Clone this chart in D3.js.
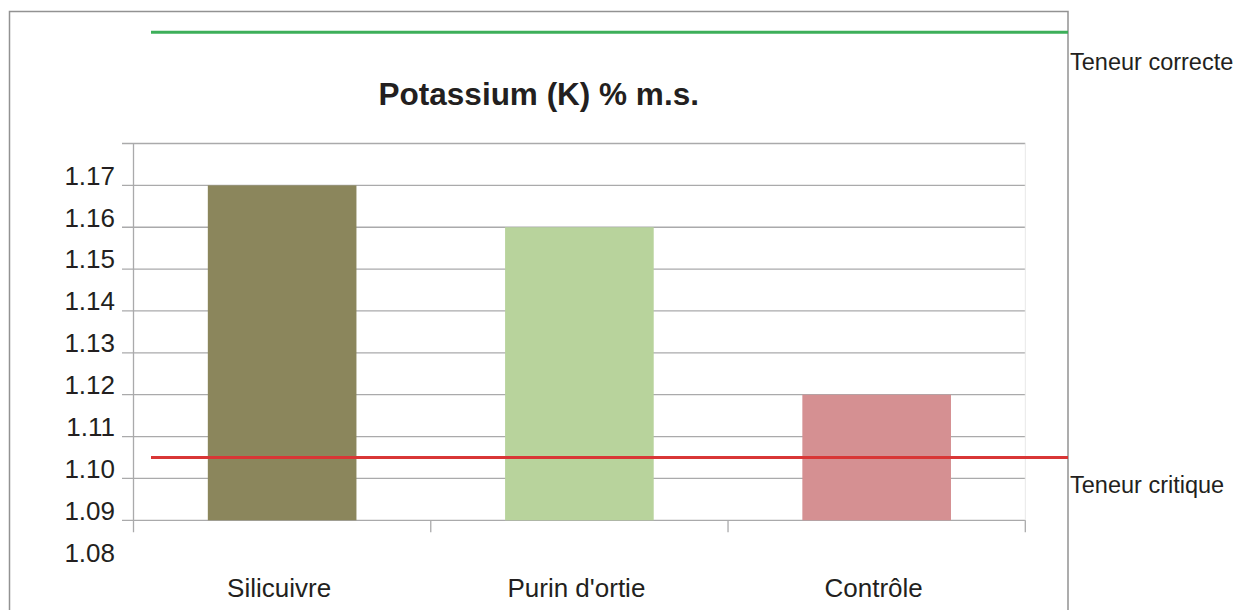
<!DOCTYPE html>
<html>
<head>
<meta charset="utf-8">
<script src="https://cdn.jsdelivr.net/npm/d3@7"></script>
<style>
  body { margin: 0; background: #fff; }
  svg { display: block; font-family: "Liberation Sans", Arial, sans-serif; }
</style>
</head>
<body>
<div id="plot"></div>
<script>
// Data
const categories = ["Silicuivre", "Purin d'ortie", "Contrôle"];
const values = [1.17, 1.16, 1.12];
const barColors = ["#8b865c", "#b8d39c", "#d59092"];
const tickLabels = [1.08, 1.09, 1.10, 1.11, 1.12, 1.13, 1.14, 1.15, 1.16, 1.17];
const gridValues = [1.09, 1.10, 1.11, 1.12, 1.13, 1.14, 1.15, 1.16, 1.17, 1.18];
const refLines = [
    { name: "Teneur correcte", value: 1.2066, color: "#3daf5a", labelDy: 38 },
    { name: "Teneur critique", value: 1.105, color: "#d93636", labelDy: 35 }
];

const width = 1237;
const height = 610;
const marginLeft = 133.5;
const plotRight = 1025.3;
const plotTop = 143.5;
const plotBottom = 520.3;
const frameLeft = 9.5;
const frameTop = 11.5;
const frameRight = 1068;

const svg = d3.select("#plot")
    .append("svg")
    .attr("width", width)
    .attr("height", height)
    .attr("viewBox", [0, 0, width, height]);

// Outer frame
svg.append("rect")
    .attr("x", frameLeft)
    .attr("y", frameTop)
    .attr("width", frameRight - frameLeft)
    .attr("height", 700)
    .attr("fill", "none")
    .attr("stroke", "#929292")
    .attr("stroke-width", 1.5);

// Scales
const x = d3.scaleBand()
    .domain(categories)
    .range([marginLeft, plotRight])
    .paddingInner(0.5)
    .paddingOuter(0.25);

const y = d3.scaleLinear()
    .domain([1.09, 1.18])
    .range([plotBottom, plotTop]);

// Title
svg.append("text")
    .attr("x", (frameLeft + frameRight) / 2)
    .attr("y", 105)
    .attr("text-anchor", "middle")
    .attr("font-weight", "bold")
    .attr("font-size", 31.5)
    .attr("fill", "#231f20")
    .text("Potassium (K) % m.s.");

// Grid lines
svg.append("g")
    .selectAll("line")
    .data(gridValues)
    .join("line")
    .attr("x1", marginLeft - 11.5)
    .attr("x2", plotRight)
    .attr("y1", d => y(d))
    .attr("y2", d => y(d))
    .attr("stroke", "#aaaaab")
    .attr("stroke-width", 1.3);

// right edge of plot area (faint)
svg.append("line")
    .attr("x1", plotRight).attr("x2", plotRight)
    .attr("y1", plotTop).attr("y2", plotBottom)
    .attr("stroke", "#e8e8e8");

// Bars
svg.append("g")
    .selectAll("rect")
    .data(values)
    .join("rect")
    .attr("x", (d, i) => x(categories[i]))
    .attr("width", x.bandwidth())
    .attr("y", d => y(d))
    .attr("height", d => y(1.09) - y(d))
    .attr("fill", (d, i) => barColors[i]);

// Left axis line
svg.append("line")
    .attr("x1", marginLeft).attr("x2", marginLeft)
    .attr("y1", plotTop).attr("y2", plotBottom + 12)
    .attr("stroke", "#aaaaab")
    .attr("stroke-width", 1.3);

// Category separator ticks
const boundaries = d3.range(categories.length + 1).map(i => marginLeft + i * (plotRight - marginLeft) / categories.length);
svg.append("g")
    .selectAll("line")
    .data(boundaries.slice(1))
    .join("line")
    .attr("x1", d => d).attr("x2", d => d)
    .attr("y1", plotBottom).attr("y2", plotBottom + 12)
    .attr("stroke", "#aaaaab")
    .attr("stroke-width", 1.3);

// Y tick labels (offset above their grid lines, as in the original)
svg.append("g")
    .selectAll("text")
    .data(tickLabels)
    .join("text")
    .attr("x", 115)
    .attr("y", d => y(d) - 10)
    .attr("dy", "0.36em")
    .attr("text-anchor", "end")
    .attr("font-size", 26)
    .attr("fill", "#231f20")
    .text(d => d.toFixed(2));

// Category labels
svg.append("g")
    .selectAll("text")
    .data(categories)
    .join("text")
    .attr("x", d => x(d) + x.bandwidth() / 2 - 3)
    .attr("y", 597)
    .attr("text-anchor", "middle")
    .attr("font-size", 26)
    .attr("fill", "#231f20")
    .text(d => d);

// Reference lines
const refs = svg.append("g");
refs.selectAll("line")
    .data(refLines)
    .join("line")
    .attr("x1", marginLeft + 17.5)
    .attr("x2", frameRight)
    .attr("y1", d => y(d.value))
    .attr("y2", d => y(d.value))
    .attr("stroke", d => d.color)
    .attr("stroke-width", 3);

refs.selectAll("text")
    .data(refLines)
    .join("text")
    .attr("x", frameRight + 2)
    .attr("y", d => y(d.value) + d.labelDy)
    .attr("font-size", 23.5)
    .attr("fill", "#231f20")
    .text(d => d.name);
</script>
</body>
</html>
